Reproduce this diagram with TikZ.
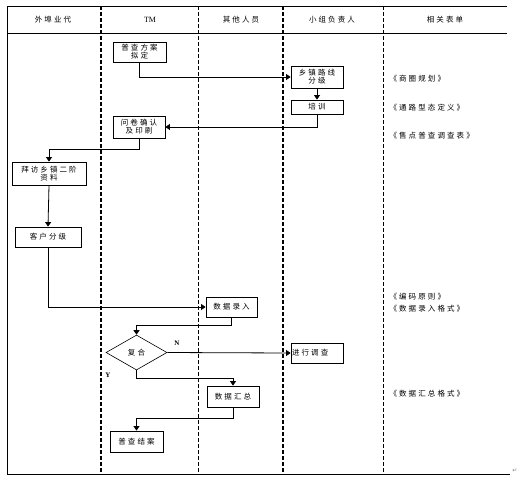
\documentclass[tikz,border=0pt]{standalone}
\usepackage{fontspec}
\setmainfont{Liberation Serif}
\newfontfamily\cjk[LetterSpace=28]{Noto Sans CJK SC}
\newfontfamily\dejavu{DejaVu Sans}
\usetikzlibrary{shapes.geometric,arrows.meta}
\begin{document}
\begin{tikzpicture}[x=1pt,y=-1pt,
  box/.style={draw,line width=0.8pt,inner sep=0pt,align=center,font=\cjk\fontsize{7.5}{9}\selectfont},
  arr/.style={line width=0.8pt,-{Triangle[width=6pt,length=4.5pt]}},
  thickdash/.style={line width=1.6pt,dash pattern=on 4pt off 2pt},
  thindash/.style={line width=0.7pt,dash pattern=on 3.5pt off 2.5pt},
  hdr/.style={font=\cjk\fontsize{7.5}{9}\selectfont},
  form/.style={anchor=west,font=\cjk\fontsize{7.5}{9}\selectfont},
  yn/.style={font=\bfseries\fontsize{7}{8}\selectfont}]
\useasboundingbox (0,0) rectangle (527,480);
% frame
\draw[line width=0.8pt] (507,6) -- (7,6) -- (7,474) -- (510,474);
\draw[line width=0.8pt] (7,33.5) -- (507,33.5);
\draw[thickdash] (101,6) -- (101,474);
\draw[thindash] (198,6) -- (198,474);
\draw[thickdash] (283,6) -- (283,474);
\draw[thindash] (383,6) -- (383,474);
% headers
\node[hdr] (h1) at (53,20) {外埠业代};
\node[font=\fontsize{8}{9}\selectfont] (h2) at (150,20) {TM};
\node[hdr] (h3) at (241,20) {其他人员};
\node[hdr] (h4) at (332,20) {小组负责人};
\node[hdr] (h5) at (445,20) {相关表单};
% boxes
\node[box,minimum width=53pt,minimum height=20pt] (plan) at (139.5,52) {普查方案\\[-1pt]拟定};
\node[box,minimum width=52pt,minimum height=22pt] (xz) at (317,77) {乡镇路线\\[-1pt]分级};
\node[box,minimum width=52pt,minimum height=14pt] (px) at (317,107) {培训};
\node[box,minimum width=52pt,minimum height=22pt] (wj) at (139,127) {问卷确认\\[-1pt]及印刷};
\node[box,minimum width=74pt,minimum height=23pt] (bf) at (49,173.5) {拜访乡镇二阶\\[-1pt]资料};
\node[box,minimum width=66pt,minimum height=20pt] (kh) at (48,237) {客户分级};
\node[box,minimum width=51pt,minimum height=20pt] (lr) at (231.5,307) {数据录入};
\node[draw,line width=0.6pt,diamond,aspect=1.75,minimum width=61pt,minimum height=35pt,inner sep=0pt,font=\cjk\fontsize{7.5}{9}\selectfont] (dia) at (136.5,352.5) {复合};
\node[box,minimum width=52pt,minimum height=20pt,align=left,text width=50pt] (dc) at (317,353) {进行调查};
\node[box,minimum width=52pt,minimum height=21pt] (hz) at (233,396.5) {数据汇总};
\node[box,minimum width=53pt,minimum height=21pt] (ja) at (136.5,441.5) {普查结案};
% forms
\node[form] (f1) at (386,79) {《商圈规划》};
\node[form] (f2) at (386,108) {《通路型态定义》};
\node[form] (f3) at (386,136) {《售点普查调查表》};
\node[form] (f4) at (386,297) {《编码原则》};
\node[form] (f5) at (386,308.5) {《数据录入格式》};
\node[form] (f6) at (386,394) {《数据汇总格式》};
% labels
\node[yn] (n) at (177,343) {N};
\node[yn] (y) at (108,375) {Y};
\node[font=\dejavu\fontsize{6}{7}\selectfont,text=gray] (ret) at (515,471) {↵};
% connectors
\draw[arr] (plan.south) |- (xz.west);
\draw[arr] (xz.south) -- (px.north);
\draw[arr] (px.south) |- (wj.east);
\draw[arr] (wj.south) -- ++(0,11) -| (bf.north);
\draw[arr] (bf.south) -- (kh.north);
\draw[arr] (kh.south) |- (lr.west);
\draw[arr] (lr.south) -- ++(0,8) -| (dia.north);
\draw[arr] (dia.east) -- (dc.west);
\draw[arr] (dia.south) -- ++(0,8) -| (hz.north);
\draw[arr] (hz.south) -- ++(0,11) -| (ja.north);
\end{tikzpicture}
\end{document}
